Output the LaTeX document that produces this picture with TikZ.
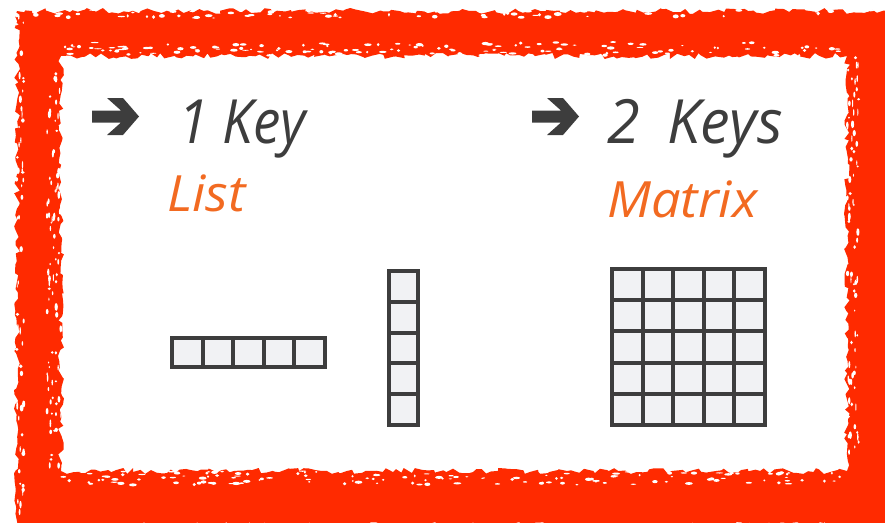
\documentclass[tikz,border=0pt]{standalone}
\usepackage{fontspec}
\setmainfont{Open Sans}
\usetikzlibrary{decorations.pathmorphing}
\definecolor{framered}{HTML}{FF2A00}
\definecolor{txtgray}{HTML}{3D3D3D}
\definecolor{accent}{HTML}{F26A21}
\definecolor{cellfill}{HTML}{F1F2F4}
\begin{document}
\begin{tikzpicture}[x=1pt,y=-1pt,
  keytext/.style={text=txtgray,font=\fontsize{61}{61}\selectfont\itshape,inner sep=0pt,anchor=base west,xscale=0.9},
  kindtext/.style={text=accent,font=\fontsize{50}{50}\selectfont\itshape,inner sep=0pt,anchor=base west,xscale=1.05},
  cell/.style={draw=txtgray,line width=4pt,fill=cellfill},
  speck/.style={fill=white}]
\useasboundingbox (0,0) rectangle (885,522);
\pgfmathsetseed{42}
% rough red frame
\fill[framered,even odd rule,decorate,decoration={random steps,segment length=5pt,amplitude=3pt}]
  (17,11) rectangle (888,525) (61,56) rectangle (847,471);
% white specks near the inner edges
\foreach \i in {1,...,140}{
  \pgfmathsetmacro{\px}{62+784*rnd}\pgfmathsetmacro{\py}{42+14*rnd}
  \pgfmathsetmacro{\rx}{1+3*rnd}\pgfmathsetmacro{\ry}{0.5+1.2*rnd}
  \fill[speck] (\px,\py) ellipse [x radius=\rx,y radius=\ry];
  \pgfmathsetmacro{\px}{62+784*rnd}\pgfmathsetmacro{\py}{471+14*rnd}
  \pgfmathsetmacro{\rx}{1+3*rnd}\pgfmathsetmacro{\ry}{0.5+1.2*rnd}
  \fill[speck] (\px,\py) ellipse [x radius=\rx,y radius=\ry];
}
\foreach \i in {1,...,80}{
  \pgfmathsetmacro{\px}{47+14*rnd}\pgfmathsetmacro{\py}{56+414*rnd}
  \pgfmathsetmacro{\rx}{0.5+1.2*rnd}\pgfmathsetmacro{\ry}{1+3*rnd}
  \fill[speck] (\px,\py) ellipse [x radius=\rx,y radius=\ry];
  \pgfmathsetmacro{\px}{847+12*rnd}\pgfmathsetmacro{\py}{56+414*rnd}
  \pgfmathsetmacro{\rx}{0.5+1.2*rnd}\pgfmathsetmacro{\ry}{1+3*rnd}
  \fill[speck] (\px,\py) ellipse [x radius=\rx,y radius=\ry];
}
\foreach \i in {1,...,60}{
  \pgfmathsetmacro{\px}{20+860*rnd}\pgfmathsetmacro{\py}{10+8*rnd}
  \pgfmathsetmacro{\rx}{1+3*rnd}\pgfmathsetmacro{\ry}{0.5+1.5*rnd}
  \fill[speck] (\px,\py) ellipse [x radius=\rx,y radius=\ry];
  \pgfmathsetmacro{\px}{16+8*rnd}\pgfmathsetmacro{\py}{15+500*rnd}
  \pgfmathsetmacro{\rx}{0.5+1.5*rnd}\pgfmathsetmacro{\ry}{1+3*rnd}
  \fill[speck] (\px,\py) ellipse [x radius=\rx,y radius=\ry];
}
% arrows
\foreach \dx in {0,440}{
  \fill[txtgray,shift={(\dx,0)}] (92,110.5) -- (121,110.5) -- (107,98) -- (123,98) -- (139,116.5)
    -- (123,135) -- (107,135) -- (121,122.5) -- (92,122.5) -- cycle;
}
% texts
\node[keytext] (k1) at (178,143) {1 Key};
\node[kindtext] (list) at (167,211) {List};
\node[keytext,xscale=1.08] (k2) at (607,143) {2\hspace{28pt}Keys};
\node[kindtext] (matrix) at (607,217) {Matrix};
% horizontal list
\foreach \i in {0,...,4}
  \draw[cell] (172+30.6*\i,338) rectangle ++(30.6,28.5);
% vertical list
\foreach \i in {0,...,4}
  \draw[cell] (389,271+30.8*\i) rectangle ++(28.5,30.8);
% matrix
\foreach \i in {0,...,4}
  \foreach \j in {0,...,4}
    \draw[cell] (612+30.6*\i,269+31.2*\j) rectangle ++(30.6,31.2);
\end{tikzpicture}
\end{document}
